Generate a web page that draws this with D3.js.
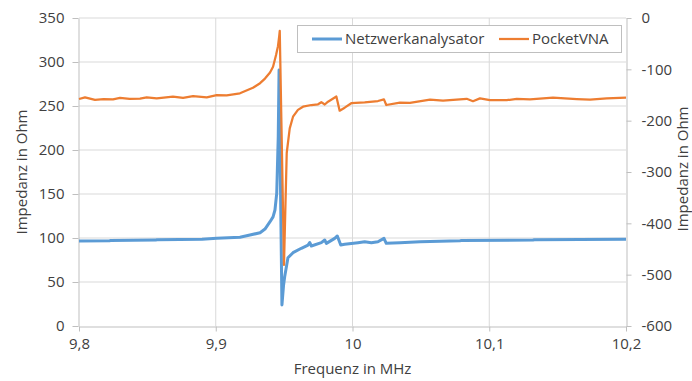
<!DOCTYPE html>
<html>
<head>
<meta charset="utf-8">
<script src="https://cdn.jsdelivr.net/npm/d3@7"></script>
<style>
  body { margin: 0; background: #fff; }
  svg text { font-family: "Open Sans", "Noto Sans", sans-serif; fill: #404040; }
</style>
</head>
<body>
<div id="chart"></div>
<script>
'use strict';

// frequency in MHz, left axis values (Ohm)
const netz_freq = [9.800, 9.8227, 9.8230, 9.8560, 9.8570, 9.8900, 9.9007, 9.9177, 9.9250, 9.9324,
  9.9360, 9.9397, 9.9419, 9.9433, 9.9446, 9.9457, 9.9463, 9.9484, 9.9496, 9.9504,
  9.9528, 9.9565, 9.9626, 9.9675, 9.9687, 9.9699, 9.9772, 9.9797, 9.9809, 9.9870,
  9.9889, 9.9914, 9.9943, 10.0040, 10.0089, 10.0138, 10.0186, 10.0230, 10.0247, 10.0347,
  10.0494, 10.0786, 10.0800, 10.1320, 10.1330, 10.2000]
const netz_vals = [96.6, 96.8, 97.3, 97.6, 98.0, 98.5, 99.7, 100.8, 103.4, 106.0,
  110.2, 118.5, 124.0, 131.8, 151, 215, 291, 23.9, 46.6, 56,
  77.5, 83.3, 88.3, 92.0, 94.9, 90.9, 94.7, 97.7, 93.9, 99.6,
  102.3, 92.0, 92.8, 94.7, 95.8, 94.7, 95.8, 99.6, 93.9, 94.7,
  95.8, 96.9, 97.3, 97.7, 98.0, 98.5]

// frequency in MHz, right axis values (Ohm)
const pocket_freq = [9.800, 9.8044, 9.8117, 9.8180, 9.8249, 9.8300, 9.8370, 9.8446, 9.8495, 9.8568,
  9.8620, 9.8687, 9.8761, 9.8834, 9.8934, 9.9007, 9.9080, 9.9177, 9.9272, 9.9324,
  9.9360, 9.9397, 9.9419, 9.9441, 9.9455, 9.9463, 9.9468, 9.9499, 9.9519, 9.9541,
  9.9565, 9.9601, 9.9638, 9.9699, 9.9748, 9.9772, 9.9797, 9.9821, 9.9882, 9.9906,
  9.9943, 9.9991, 10.0089, 10.0186, 10.0230, 10.0247, 10.0347, 10.0420, 10.0567, 10.0662,
  10.0835, 10.0881, 10.0932, 10.1005, 10.1128, 10.1201, 10.1298, 10.1466, 10.1640, 10.1737,
  10.1859, 10.2000]
const pocket_vals = [-157.8, -154.5, -159.5, -158.0, -158.4, -155.5, -157.5, -157.2, -154.5, -156.4,
  -155.0, -153.0, -155.8, -152.4, -154.5, -150.4, -150.6, -146.7, -136.0, -127.0,
  -118, -106, -95, -72, -55, -38, -25, -481, -263, -215,
  -192.3, -179, -172.8, -169.5, -168.1, -164, -168.5, -163, -153, -180.6,
  -174.7, -166, -164.2, -161.7, -158.5, -169.5, -165, -165.2, -158.8, -161.1,
  -157.4, -162.1, -156.5, -160.1, -160.1, -157.4, -158.3, -155.3, -157.9, -158.8,
  -156.5, -155.3]

const series_names = ['Netzwerkanalysator', 'PocketVNA']
const series_colors = ['#5b9bd5', '#ed7d31']

const x_ticks = [9.8, 9.9, 10.0, 10.1, 10.2]
const x_tick_labels = ['9,8', '9,9', '10', '10,1', '10,2']
const y_left_ticks = [0, 50, 100, 150, 200, 250, 300, 350]
const y_right_ticks = [-600, -500, -400, -300, -200, -100, 0]

const width = 692
const height = 381
const margin = { top: 18, bottom: 55, left: 79, right: 66 }
const ctrWidth = width - margin.left - margin.right
const ctrHeight = height - margin.top - margin.bottom

const svg = d3.select('#chart').append('svg')
  .attr('width', width)
  .attr('height', height)

const xScale = d3.scaleLinear().domain([9.8, 10.2]).range([margin.left, margin.left + ctrWidth])
const yLeft = d3.scaleLinear().domain([0, 350]).range([margin.top + ctrHeight, margin.top])
const yRight = d3.scaleLinear().domain([-600, 0]).range([margin.top + ctrHeight, margin.top])

// gridlines
svg.append('g')
  .selectAll('line')
  .data(y_left_ticks.slice(1))
  .join('line')
  .attr('x1', margin.left).attr('x2', margin.left + ctrWidth)
  .attr('y1', d => yLeft(d)).attr('y2', d => yLeft(d))
  .attr('stroke', '#d9d9d9').attr('stroke-width', 1)

svg.append('g')
  .selectAll('line')
  .data(x_ticks.slice(1, -1))
  .join('line')
  .attr('x1', d => xScale(d)).attr('x2', d => xScale(d))
  .attr('y1', margin.top).attr('y2', margin.top + ctrHeight)
  .attr('stroke', '#d9d9d9').attr('stroke-width', 1)

// axes
const styleAxis = function(g){
  g.select('.domain').attr('stroke', '#bfbfbf')
  g.selectAll('.tick line').attr('stroke', '#bfbfbf')
  g.selectAll('.tick text')
    .attr('font-size', '15px')
    .attr('fill', '#404040')
    .style('font-family', '"Open Sans", sans-serif')
}

const xAxis = d3.axisBottom(xScale)
  .tickValues(x_ticks)
  .tickSize(5)
  .tickSizeOuter(0)
  .tickPadding(7)
  .tickFormat((d, i) => x_tick_labels[i])
svg.append('g')
  .attr('transform', `translate(0, ${margin.top + ctrHeight + 0.5})`)
  .call(xAxis)
  .call(styleAxis)

const yAxisL = d3.axisLeft(yLeft)
  .tickValues(y_left_ticks)
  .tickSize(6)
  .tickSizeOuter(0)
  .tickPadding(8)
  .tickFormat(d => String(d))
svg.append('g')
  .attr('transform', `translate(${margin.left - 0.5}, 0)`)
  .call(yAxisL)
  .call(styleAxis)

const yAxisR = d3.axisRight(yRight)
  .tickValues(y_right_ticks)
  .tickSize(5)
  .tickSizeOuter(0)
  .tickPadding(10)
  .tickFormat(d => String(d).replace('\u2212', '-'))
svg.append('g')
  .attr('transform', `translate(${margin.left + ctrWidth + 0.5}, 0)`)
  .call(yAxisR)
  .call(styleAxis)

// axis titles
svg.append('text')
  .attr('transform', `translate(27, ${margin.top + ctrHeight / 2}) rotate(-90)`)
  .attr('text-anchor', 'middle')
  .attr('font-size', '15px')
  .text('Impedanz in Ohm')

svg.append('text')
  .attr('transform', `translate(687.5, ${margin.top + ctrHeight / 2 - 3}) rotate(-90)`)
  .attr('text-anchor', 'middle')
  .attr('font-size', '15px')
  .text('Impedanz in Ohm')

svg.append('text')
  .attr('x', margin.left + ctrWidth / 2)
  .attr('y', 374)
  .attr('text-anchor', 'middle')
  .attr('font-size', '15px')
  .text('Frequenz in MHz')

// lines
const netz_data = netz_freq.map((f, i) => ({ x: f, y: netz_vals[i] }))
const pocket_data = pocket_freq.map((f, i) => ({ x: f, y: pocket_vals[i] }))

const lineL = d3.line().x(d => xScale(d.x)).y(d => yLeft(d.y))
const lineR = d3.line().x(d => xScale(d.x)).y(d => yRight(d.y))

svg.append('path')
  .datum(netz_data)
  .attr('d', lineL)
  .attr('fill', 'none')
  .attr('stroke', series_colors[0])
  .attr('stroke-width', 3)
  .attr('stroke-linejoin', 'round')

svg.append('path')
  .datum(pocket_data)
  .attr('d', lineR)
  .attr('fill', 'none')
  .attr('stroke', series_colors[1])
  .attr('stroke-width', 2.25)
  .attr('stroke-linejoin', 'round')

// legend
const legend_g = svg.append('g')
legend_g.append('rect')
  .attr('x', 297.5).attr('y', 25.5)
  .attr('width', 324).attr('height', 27)
  .attr('fill', '#fff')
  .attr('stroke', '#bfbfbf')

const legend_x = [312, 499]
const legend_items = legend_g.selectAll('g')
  .data(series_names)
  .join('g')
  .attr('transform', (d, i) => `translate(${legend_x[i]}, 39)`)

legend_items.append('line')
  .attr('x1', 0).attr('x2', 30)
  .attr('stroke', (d, i) => series_colors[i])
  .attr('stroke-width', (d, i) => i === 0 ? 3 : 2.25)

legend_items.append('text')
  .attr('x', 33)
  .attr('dy', '0.35em')
  .attr('font-size', '15px')
  .text(d => d)
</script>
</body>
</html>
